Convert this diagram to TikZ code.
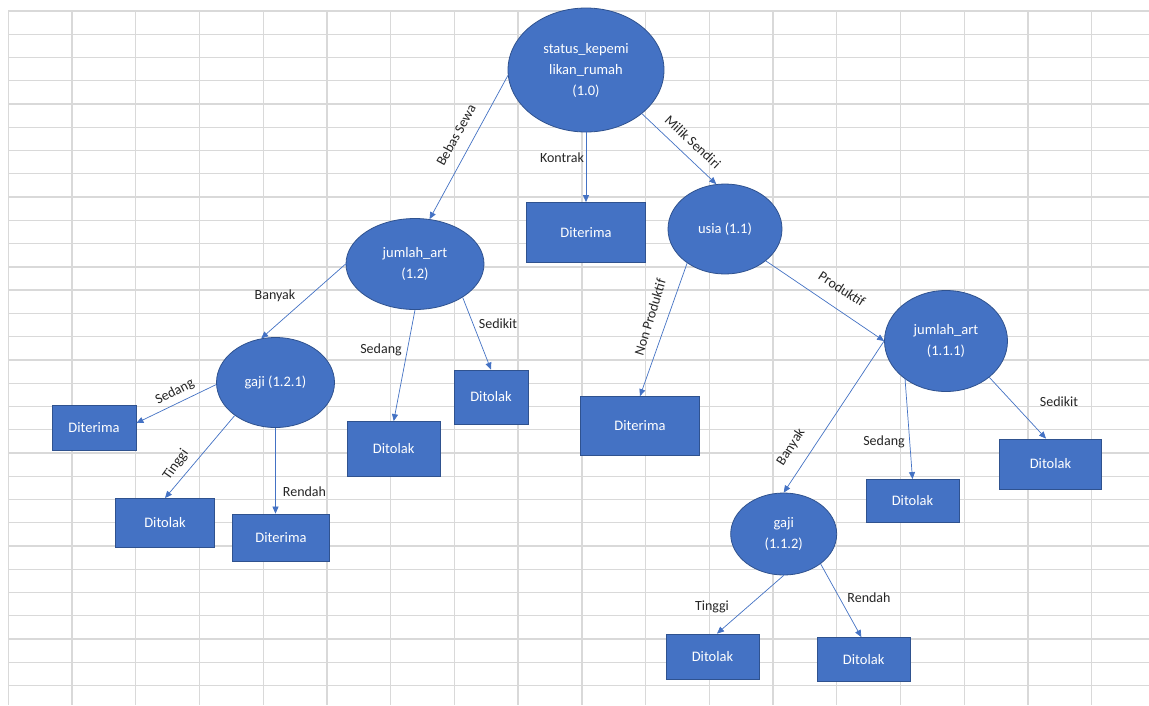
\documentclass[tikz,border=0pt]{standalone}
\usepackage{fontspec}
\setmainfont{Carlito}
\usetikzlibrary{shapes.geometric,arrows.meta,calc}
\definecolor{nodeblue}{HTML}{4472C4}
\definecolor{nodeedge}{HTML}{2F528F}
\definecolor{gridc}{HTML}{D9D9D9}
\definecolor{labc}{HTML}{262626}
\tikzset{
 ell/.style={ellipse, draw=nodeedge, line width=0.8pt, fill=nodeblue, text=white, inner sep=0pt, align=center, font=\fontsize{14.5}{21}\selectfont},
 box/.style={rectangle, draw=nodeedge, line width=0.8pt, fill=nodeblue, text=white, inner sep=0pt, font=\fontsize{14.5}{21}\selectfont},
 conn/.style={draw=nodeblue, line width=0.7pt, -{Triangle[length=7pt,width=6pt]}},
 lab/.style={text=labc, inner sep=0pt, font=\fontsize{14}{16}\selectfont},
 gridline/.style={draw=gridc, line width=1.3pt},
}
\begin{document}
\begin{tikzpicture}[x=1pt,y=-1pt]
\useasboundingbox (0,0) rectangle (1149,705);
\fill[white] (0,0) rectangle (1149,705);
% spreadsheet grid
\foreach \k in {0,...,29} \draw[gridline] (8.3,{11+23.26*\k}) -- (1149,{11+23.26*\k});
\foreach \k in {0,...,17} \draw[gridline] ({8.3+63.73*\k},11) -- ({8.3+63.73*\k},705);

% nodes
\node[ell, minimum width=156, minimum height=124] (root) at (586,70) {status\_kepemi\\likan\_rumah\\(1.0)};
\node[box, minimum width=119, minimum height=60] (dk) at (586,232.5) {Diterima};
\node[ell, minimum width=114, minimum height=90] (usia) at (725,229) {usia (1.1)};
\node[ell, minimum width=138, minimum height=91] (j12) at (415,264) {jumlah\_art\\(1.2)};
\node[ell, minimum width=118, minimum height=90] (g121) at (275.5,382.5) {gaji (1.2.1)};
\node[box, minimum width=84, minimum height=45] (d121s) at (94,427.5) {Diterima};
\node[box, minimum width=99, minimum height=49] (t121t) at (165,523) {Ditolak};
\node[box, minimum width=97, minimum height=47] (d121r) at (281,537.5) {Diterima};
\node[box, minimum width=93, minimum height=55] (t12s) at (393.7,449) {Ditolak};
\node[box, minimum width=74, minimum height=54] (t12k) at (491,397) {Ditolak};
\node[box, minimum width=119, minimum height=59] (dnp) at (640,426) {Diterima};
\node[ell, minimum width=123, minimum height=101] (j111) at (946,341) {jumlah\_art\\(1.1.1)};
\node[box, minimum width=93, minimum height=43] (t111s) at (912.5,501) {Ditolak};
\node[box, minimum width=102, minimum height=50] (t111k) at (1050.5,464) {Ditolak};
\node[ell, minimum width=106, minimum height=82] (g112) at (783.7,534) {gaji\\(1.1.2)};
\node[box, minimum width=93, minimum height=45] (t112t) at (712.5,656.5) {Ditolak};
\node[box, minimum width=93, minimum height=44] (t112r) at (863.7,659.5) {Ditolak};

% connectors
\draw[conn] (root.184) -- (j12.72);
\draw[conn] (root.south) -- (dk.north);
\draw[conn] (root.-38) -- (usia.101);
\draw[conn] (j12.west) -- (g121.108);
\draw[conn] (j12.south) -- (t12s.north);
\draw[conn] (j12.-35) -- (t12k.north);
\draw[conn] (g121.182) -- (d121s.6);
\draw[conn] (g121.219) -- (t121t.north);
\draw[conn] (g121.south) -- (g121.south |- d121r.north);
\draw[conn] (usia.222) -- (dnp.north);
\draw[conn] (usia.-38) -- (j111.west);
\draw[conn] (j111.west) -- (g112.north);
\draw[conn] (j111.223) -- (t111s.north);
\draw[conn] (j111.-40) -- (t111k.100);
\draw[conn] (g112.south) -- (t112t.79);
\draw[conn] (g112.-39) -- (t112r.96);

% labels
\node[lab, rotate=61] (lbs) at (456,135) {Bebas Sewa};
\node[lab] (lko) at (562,158) {Kontrak};
\node[lab, rotate=-43] (lms) at (693,142) {Milik Sendiri};
\node[lab] (lb1) at (275,296) {Banyak};
\node[lab] (ls1) at (381,350) {Sedang};
\node[lab] (lk1) at (498,324) {Sedikit};
\node[lab, rotate=27] (ls2) at (175,392) {Sedang};
\node[lab, rotate=55] (lt1) at (176,465) {Tinggi};
\node[lab] (lr1) at (304.5,491.7) {Rendah};
\node[lab, rotate=73] (lnp) at (650,317) {Non Produktif};
\node[lab, rotate=-33] (lpr) at (842,289) {Produktif};
\node[lab, rotate=57] (lb2) at (791,447) {Banyak};
\node[lab] (ls3) at (884,442) {Sedang};
\node[lab] (lk2) at (1059,402) {Sedikit};
\node[lab] (lt2) at (712,607) {Tinggi};
\node[lab] (lr2) at (869,598) {Rendah};
\end{tikzpicture}
\end{document}
